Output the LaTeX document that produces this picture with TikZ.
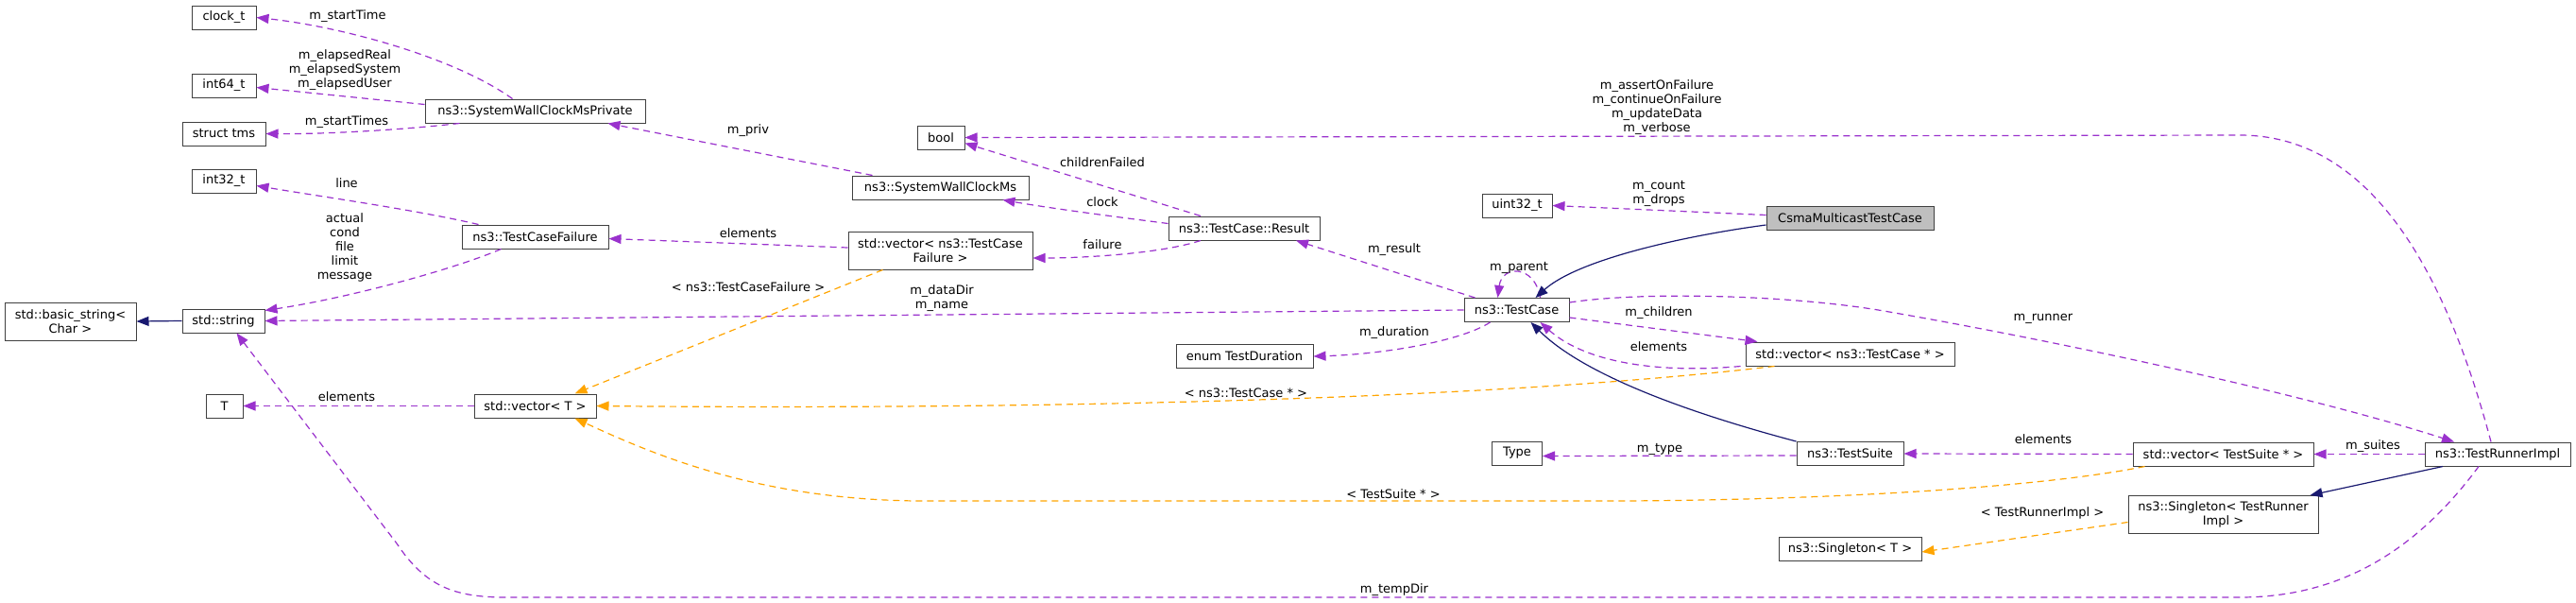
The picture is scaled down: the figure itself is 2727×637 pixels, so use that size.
\documentclass[tikz,border=0pt]{standalone}
\usepackage{fontspec}
\setmainfont{DejaVu Sans}
\usetikzlibrary{arrows.meta}
\definecolor{edgepurple}{HTML}{9A32CD}
\definecolor{edgeorange}{HTML}{FFA500}
\definecolor{edgenavy}{HTML}{191970}
\definecolor{nodegray}{HTML}{BFBFBF}
\definecolor{nodeborder}{HTML}{404040}
\begin{document}
\begin{tikzpicture}[x=1pt,y=-1pt,
  every node/.style={font=\fontsize{13}{15}\selectfont},
  cls/.style={draw=nodeborder, line width=1pt, fill=white, inner sep=0pt, align=center, minimum height=25pt},
  cls2/.style={cls, minimum height=40pt},
  lbl/.style={inner sep=0pt, align=center},
  mem/.style={draw=edgepurple, line width=1.2pt, dash pattern=on 7pt off 5pt, -{Triangle[length=13pt,width=10pt,fill=edgepurple]}},
  tmpl/.style={draw=edgeorange, line width=1.2pt, dash pattern=on 7pt off 5pt, -{Triangle[length=13pt,width=10pt,fill=edgeorange]}},
  inh/.style={draw=edgenavy, line width=1.2pt, -{Triangle[length=13pt,width=10pt,fill=edgenavy]}}
]
\useasboundingbox (0,0) rectangle (2727,637);
\fill[white] (0,0) rectangle (2727,637);

% nodes
\node[cls, minimum width=68pt] (clk) at (237,18.5) {clock\_t};
\node[cls, minimum width=68pt] (i64) at (237,90.5) {int64\_t};
\node[cls, minimum width=88pt] (tms) at (237,141.5) {struct tms};
\node[cls, minimum width=233pt] (priv) at (566.5,117.5) {ns3::SystemWallClockMsPrivate};
\node[cls, minimum width=68pt] (i32) at (237,191.5) {int32\_t};
\node[cls, minimum width=155pt] (tcf) at (566.5,250.5) {ns3::TestCaseFailure};
\node[cls2, minimum width=139pt] (bstr) at (74.5,340) {std::basic\_string<\\Char >};
\node[cls, minimum width=87pt] (str) at (236.5,339.5) {std::string};
\node[cls, minimum width=39pt] (T) at (237.5,429.5) {T};
\node[cls, minimum width=129pt] (vecT) at (566.5,429.5) {std::vector< T >};
\node[cls, minimum width=50pt] (bool) at (996,145.5) {bool};
\node[cls, minimum width=187pt] (swc) at (995.5,198.5) {ns3::SystemWallClockMs};
\node[cls2, minimum width=195pt] (vtcf) at (995.5,265) {std::vector< ns3::TestCase\\Failure >};
\node[cls, minimum width=160pt] (res) at (1317,241.5) {ns3::TestCase::Result};
\node[cls, minimum width=145pt] (dur) at (1317.5,377) {enum TestDuration};
\node[cls, minimum width=74pt] (u32) at (1606,217.5) {uint32\_t};
\node[cls, minimum width=111pt] (tc) at (1605.5,328) {ns3::TestCase};
\node[cls, minimum width=53pt] (type) at (1606,479.5) {Type};
\node[cls, minimum width=177pt, fill=nodegray] (csma) at (1958.5,230.5) {CsmaMulticastTestCase};
\node[cls, minimum width=221pt] (vtc) at (1958.5,374.5) {std::vector< ns3::TestCase * >};
\node[cls, minimum width=113pt] (ts) at (1958.5,480) {ns3::TestSuite};
\node[cls, minimum width=151pt] (sgT) at (1958.5,581) {ns3::Singleton< T >};
\node[cls, minimum width=191pt] (vts) at (2353.5,480.5) {std::vector< TestSuite * >};
\node[cls2, minimum width=201pt] (sgR) at (2353.5,544.5) {ns3::Singleton< TestRunner\\Impl >};
\node[cls, minimum width=154pt] (tri) at (2644,480.5) {ns3::TestRunnerImpl};

% edges
\draw[mem] ([xshift=-24pt]priv.north) .. controls (480,60) and (360,28) .. (clk.east);
\draw[mem] ([yshift=7pt]priv.west) -- ([yshift=-2pt]i64.east);
\draw[mem] ([xshift=-80pt]priv.south) .. controls (420,138) and (340,142) .. (tms.east);
\draw[mem] ([xshift=-72pt]swc.north) -- ([xshift=77pt]priv.south);
\draw[mem] ([yshift=5pt]res.west) .. controls (1170,228) and (1110,220) .. ([xshift=66pt]swc.south);
\draw[mem] ([xshift=-46pt]res.north) -- ([yshift=-6pt]bool.east);
\draw[mem] ([xshift=-46pt]res.south) .. controls (1230,268) and (1150,273) .. ([yshift=-8pt]vtcf.east);
\draw[mem] ([yshift=3pt]vtcf.west) -- ([yshift=-2pt]tcf.east);
\draw[mem] ([xshift=-60pt]tcf.north) .. controls (440,222) and (340,208) .. ([yshift=-5pt]i32.east);
\draw[mem] ([xshift=-36pt]tcf.south) .. controls (480,285) and (370,315) .. ([yshift=11pt]str.east);
\draw[inh] (str.west) -- (bstr.east);
\draw[mem] (tc.west) -- (str.east);
\draw[mem] (vecT.west) -- (T.east);
\draw[tmpl] ([xshift=-61pt]vtcf.south) -- ([xshift=42pt]vecT.north);
\draw[tmpl] ([xshift=-80pt]vtc.south) .. controls (1500,432) and (900,432) .. (vecT.east);
\draw[tmpl] ([xshift=-83pt]vts.south) .. controls (2150,518) and (1900,530) .. (1700,530) -- (970,530) .. controls (800,528) and (690,480) .. ([xshift=42pt]vecT.south);
\draw[tmpl] ([yshift=-8pt]sgR.west) -- ([yshift=-3pt]sgT.east);
\draw[mem] ([xshift=-44pt]tc.north) -- ([xshift=55pt]res.south);
\draw[mem] ([xshift=25pt]tc.north) .. controls (1625,280) and (1590,280) .. ([xshift=-20pt]tc.north);
\draw[mem] ([xshift=-28pt]tc.south) .. controls (1545,362) and (1460,375) .. (dur.east);
\draw[mem] ([yshift=-8pt]tc.east) -- ([xshift=-98pt]vtc.north);
\draw[mem] ([xshift=-116pt]vtc.south) .. controls (1760,395) and (1680,385) .. ([xshift=25pt]tc.south);
\draw[mem] ([yshift=8pt]tc.east) .. controls (1740,308) and (1900,312) .. (2000,330) .. controls (2200,365) and (2450,420) .. ([xshift=-46pt]tri.north);
\draw[mem] (tri.west) -- (vts.east);
\draw[mem] (vts.west) -- (ts.east);
\draw[mem] ([yshift=-2pt]ts.west) -- ([yshift=-3pt]type.east);
\draw[inh] (ts.north west) .. controls (1800,440) and (1680,400) .. ([xshift=15pt]tc.south);
\draw[inh] ([yshift=-7.5pt]csma.west) .. controls (1780,250) and (1670,275) .. ([xshift=20pt]tc.north);
\draw[mem] ([yshift=3pt]csma.west) -- (u32.east);
\draw[inh] ([xshift=-58pt]tri.south) -- ([xshift=92pt]sgR.north);
\draw[mem] ([xshift=-7pt]tri.north) .. controls (2595,310) and (2520,143) .. (2371,143) -- (bool.east);
\draw[mem] ([xshift=-20pt]tri.south) .. controls (2560,580) and (2480,632) .. (2371,632) -- (536,632) .. controls (480,632) and (450,620) .. (420,575) -- ([xshift=14pt]str.south);

% labels
\node[lbl] (l1) at (368,17) {m\_startTime};
\node[lbl] (l2) at (365,74) {m\_elapsedReal\\m\_elapsedSystem\\m\_elapsedUser};
\node[lbl] (l3) at (367,129) {m\_startTimes};
\node[lbl] (l4) at (792,138) {m\_priv};
\node[lbl] (l5) at (1167,172) {childrenFailed};
\node[lbl] (l6) at (1167,214) {clock};
\node[lbl] (l7) at (1167,259) {failure};
\node[lbl] (l8) at (792,247) {elements};
\node[lbl] (l9) at (367,194) {line};
\node[lbl] (l10) at (365,262) {actual\\cond\\file\\limit\\message};
\node[lbl] (l11) at (792,304) {< ns3::TestCaseFailure >};
\node[lbl] (l12) at (997,315.5) {m\_dataDir\\m\_name};
\node[lbl] (l13) at (367,420) {elements};
\node[lbl] (l14) at (1319,416) {< ns3::TestCase * >};
\node[lbl] (l15) at (1475,523) {< TestSuite * >};
\node[lbl] (l16) at (1476,624) {m\_tempDir};
\node[lbl] (l17) at (1476,264) {m\_result};
\node[lbl] (l18) at (1608,283) {m\_parent};
\node[lbl] (l19) at (1476,352) {m\_duration};
\node[lbl] (l20) at (1756,331) {m\_children};
\node[lbl] (l21) at (1756,367) {elements};
\node[lbl] (l22) at (1756,204.5) {m\_count\\m\_drops};
\node[lbl] (l23) at (1754,113.5) {m\_assertOnFailure\\m\_continueOnFailure\\m\_updateData\\m\_verbose};
\node[lbl] (l24) at (2163,337) {m\_runner};
\node[lbl] (l25) at (2163,465) {elements};
\node[lbl] (l26) at (2512,472) {m\_suites};
\node[lbl] (l27) at (2162,543) {< TestRunnerImpl >};
\node[lbl] (l28) at (1757,475) {m\_type};
\end{tikzpicture}
\end{document}
